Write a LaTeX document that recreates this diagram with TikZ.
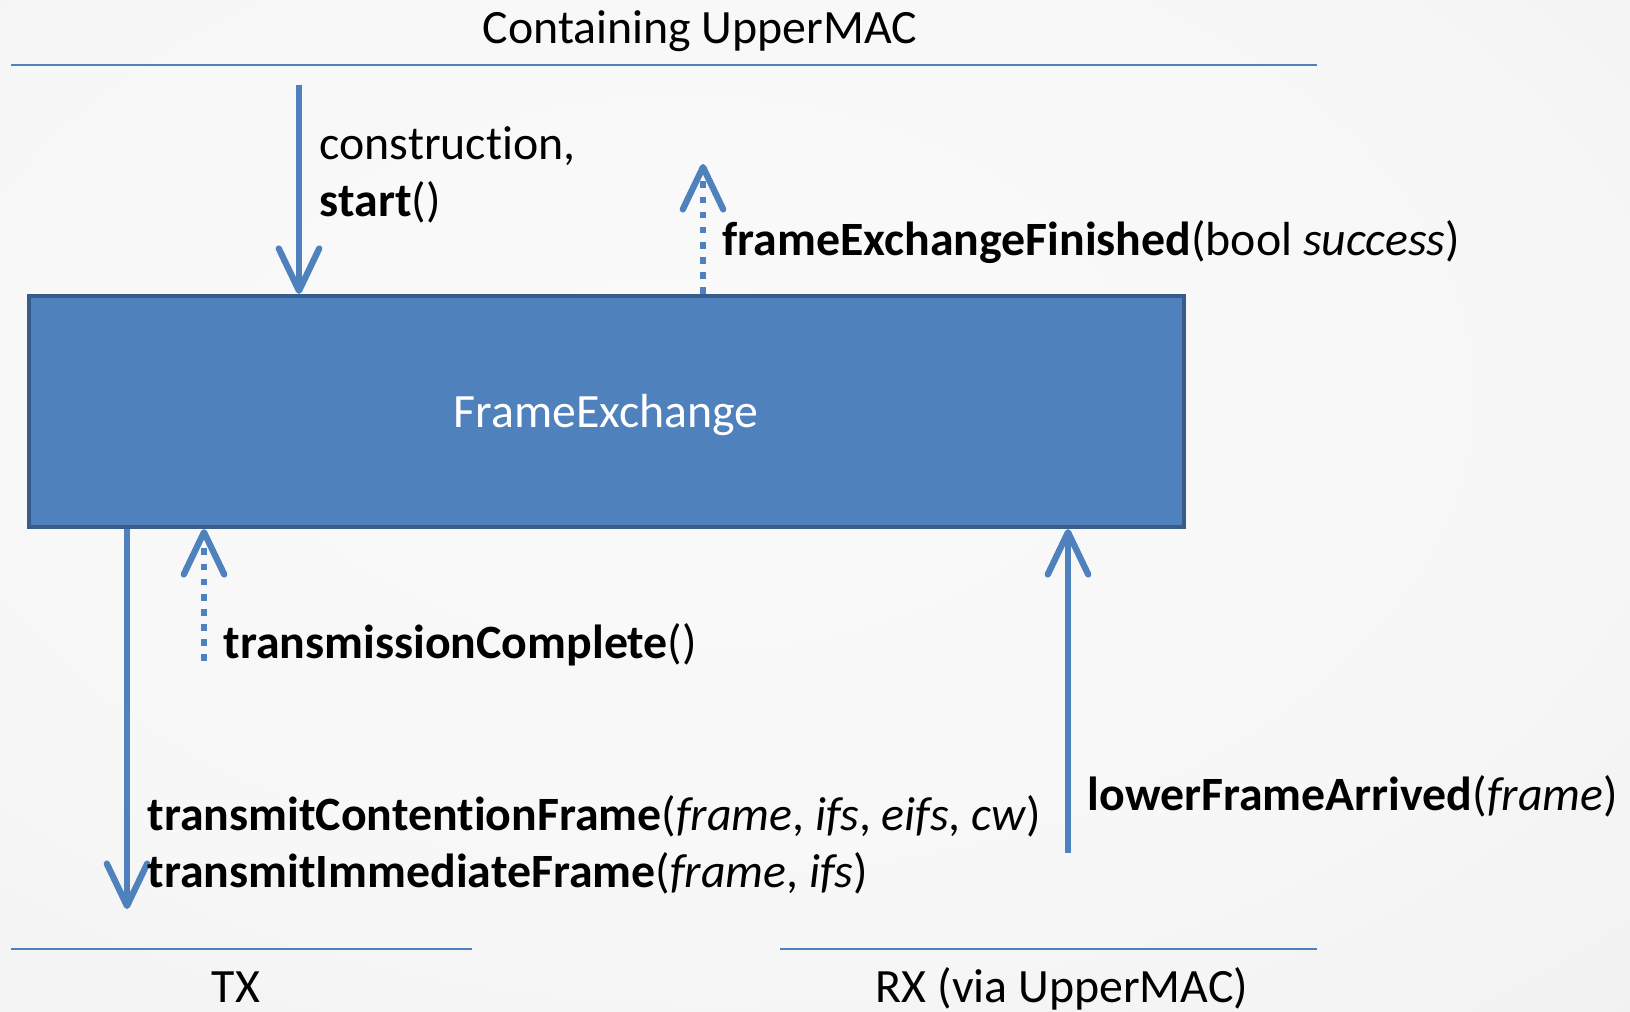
\documentclass[tikz,border=0pt]{standalone}
\usepackage{fontspec}
\setmainfont{Carlito}[Ligatures=NoCommon]
\usetikzlibrary{
	arrows.meta,
	positioning
}
\definecolor{OfficeBlue}{RGB}{79,129,189}
\definecolor{DeepBlue}{RGB}{56,93,138}
\pgfdeclareradialshading{slidebg}{\pgfpoint{-5bp}{8bp}}{%
	color(0bp)=(white!98!black); color(25bp)=(white!97!black);
	color(50bp)=(white!93!black); color(75bp)=(white!90!black)}

\begin{document}
\begin{tikzpicture}[x=0.01cm, y=-0.01cm, font=\fontsize{13.6}{17}\selectfont,
		layer/.style={OfficeBlue, line width=0.65pt},
		callarrow/.style={OfficeBlue, line width=1.8pt, -{Straight Barb[length=12pt, width=11.5pt, round]}},
		reply/.style={callarrow, dash pattern=on 1.9pt off 2.4pt},
		lbl/.style={inner sep=0pt, anchor=base west},
		fxbox/.style={draw=DeepBlue, fill=OfficeBlue, line width=1.15pt, text=white,
			minimum width=11.55cm, minimum height=2.31cm, inner sep=0pt}]
			% 背景
			\shade[shading=slidebg] (0,0) rectangle (1630,1012);
			\useasboundingbox (0,0) rectangle (1630,1012);
			% 上下层的分隔线
			\coordinate (upL) at (11,65);
			\coordinate (upR) at (1317,65);
			\coordinate (txL) at (11,949);
			\coordinate (txR) at (472,949);
			\coordinate (rxL) at (780,949);
			\coordinate (rxR) at (1317,949);
			\draw[layer] (upL) -- (upR);
			\draw[layer] (txL) -- (txR);
			\draw[layer] (rxL) -- (rxR);
			\node[inner sep=0pt, anchor=base] (upper) at (700,44) {Containing UpperMAC};
			\node[inner sep=0pt, anchor=base] (tx) at (236,1002) {TX};
			\node[inner sep=0pt, anchor=base] (rx) at (1062,1002) {RX (via UpperMAC)};
			% FrameExchange 方框
			\node[fxbox] (fx) at (606.5,411.5) {};
			\node[inner sep=0pt, anchor=base, text=white] (fxname) at (606,427) {FrameExchange};
			% 上层调用与回调
			\coordinate (startSrc) at (299,85);
			\coordinate (finTip) at (703,164);
			\draw[callarrow] (startSrc) -- (startSrc |- fx.north);
			\draw[reply] (fx.north -| finTip) -- (finTip);
			\node[lbl] (construct) at (319,159) {construction,};
			\node[lbl] (start) at (319,216) {\textbf{start}()};
			\node[lbl] (finished) at (722,255) {\textbf{frameExchangeFinished}(bool \textit{success})};
			% 发送
			\coordinate (txTip) at (127,909);
			\coordinate (doneSrc) at (204,661);
			\draw[callarrow] (fx.south -| txTip) -- (txTip);
			\draw[reply] (doneSrc) -- (doneSrc |- fx.south);
			\node[lbl] (done) at (223,658) {\textbf{transmissionComplete}()};
			\node[lbl] (contention) at (147,830) {\textbf{transmitContentionFrame}(\textit{frame}, \textit{ifs}, \textit{eifs}, \textit{cw})};
			\node[lbl] (immediate) at (147,887) {\textbf{transmitImmediateFrame}(\textit{frame}, \textit{ifs})};
			% 接收
			\coordinate (rxSrc) at (1068,853);
			\draw[callarrow] (rxSrc) -- (rxSrc |- fx.south);
			\node[lbl] (arrived) at (1087,810) {\textbf{lowerFrameArrived}(\textit{frame})};
		\end{tikzpicture}
\end{document}
